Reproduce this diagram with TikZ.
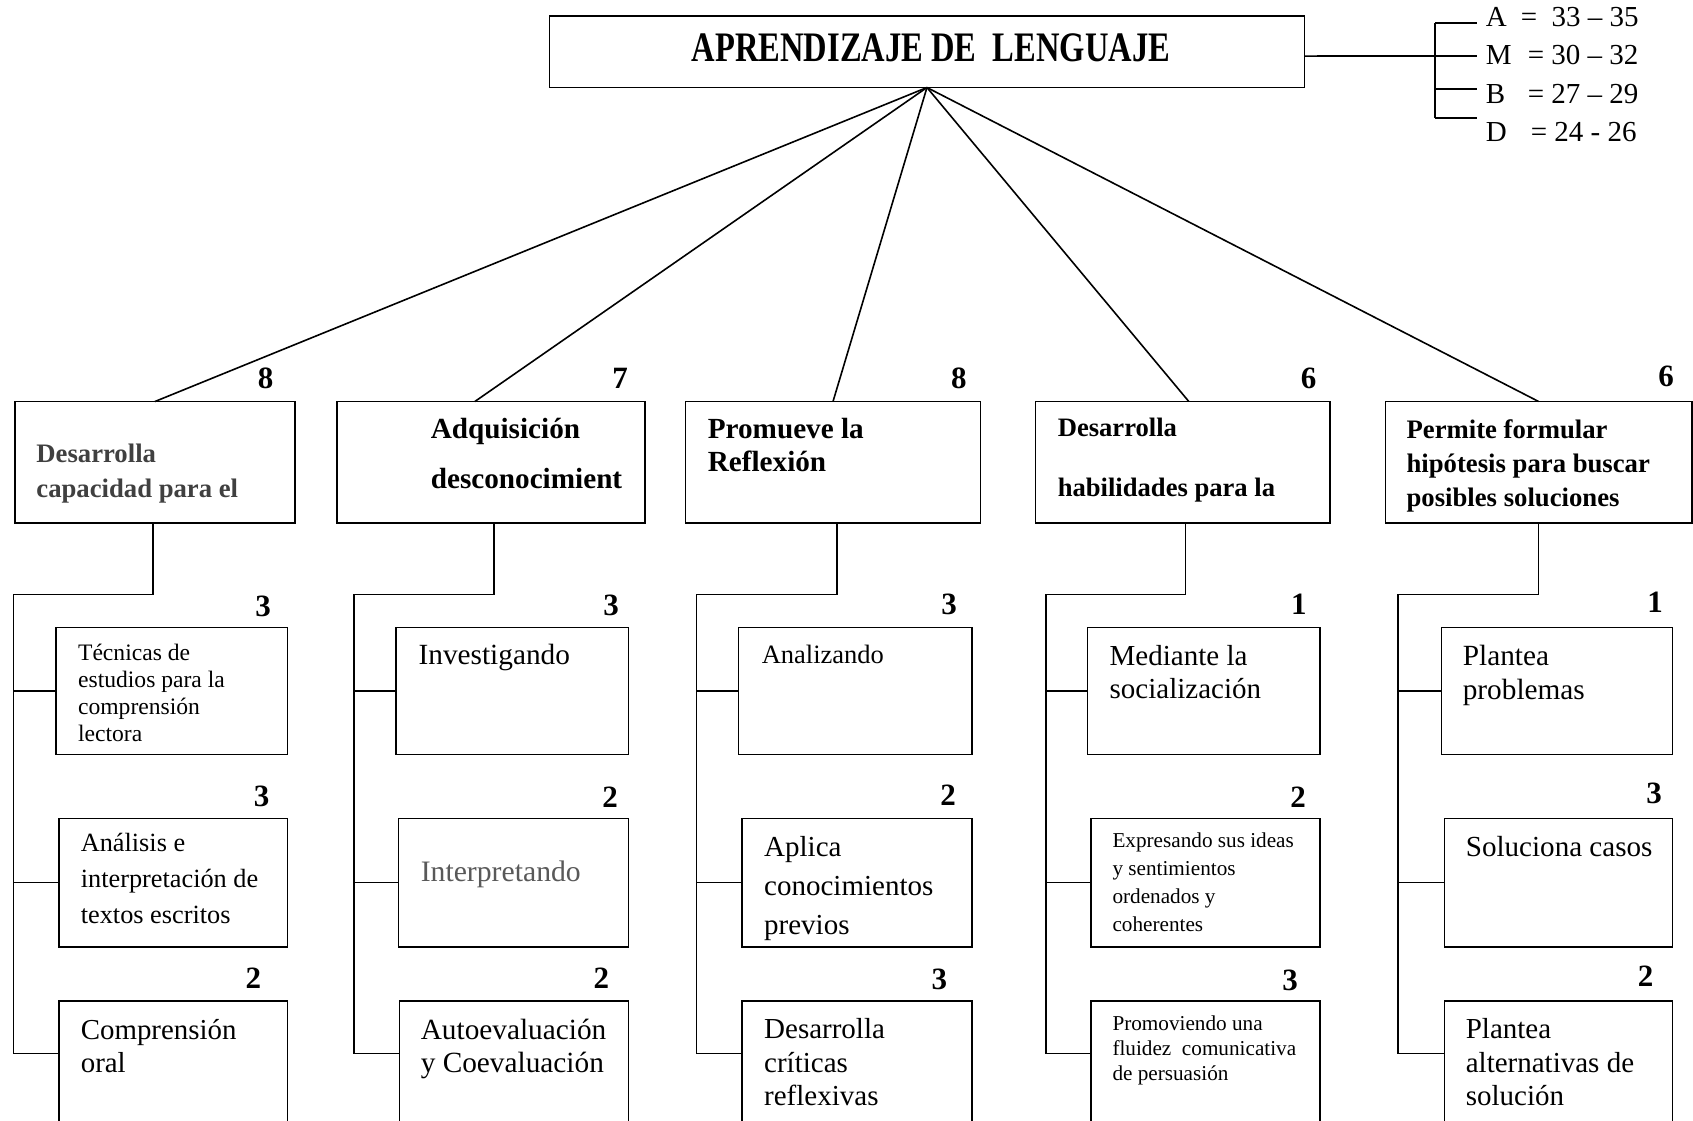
\documentclass[tikz,border=0pt]{standalone}
\usepackage{fontspec}
\setmainfont{Liberation Serif}
\newfontfamily\titlefont[FakeStretch=0.775]{Liberation Serif}
\newcommand\setfs[2]{\fontsize{#1}{#2}\selectfont}
\definecolor{grayA}{HTML}{404040}
\definecolor{grayB}{HTML}{595959}
\begin{document}
\begin{tikzpicture}[x=1pt,y=-1pt,line width=1.6pt,
  box/.style={draw,rectangle,inner sep=0pt,outer sep=0pt,anchor=north west},
  lbl/.style={inner sep=0pt,anchor=base west,align=left},
  num/.style={inner sep=0pt,font=\bfseries\setfs{31}{34}}]
\clip (0,0) rectangle (1693,1120);
\fill[white] (0,0) rectangle (1693,1120);

% title
\node[box,minimum width=754.7pt,minimum height=71.5pt] (title) at (549.6,16) {};
\node[inner sep=0pt,anchor=base,font=\titlefont\bfseries\setfs{42}{46}] (titletxt) at (931,61.5) {APRENDIZAJE DE\ \ LENGUAJE};

% legend
\coordinate (lj) at (1435,56);
\coordinate (lt) at (1435,22.7);
\coordinate (lm) at (1435,89);
\coordinate (lb) at (1435,118);
\draw ([yshift=-4.3pt]title.east) -- (lj);
\draw (lt) -- (lb);
\draw (lt) -- ++(42,0);
\draw (lj) -- ++(42,0);
\draw (lm) -- ++(42,0);
\draw (lb) -- ++(42,0);
\node[lbl,font=\setfs{29}{32}] (legA) at (1485,26.5) {\makebox[35pt][l]{A}=\ \ 33 -- 35};
\node[lbl,font=\setfs{29}{32}] (legM) at (1485,64) {\makebox[42pt][l]{M}= 30 -- 32};
\node[lbl,font=\setfs{29}{32}] (legB) at (1485,103) {\makebox[42pt][l]{B}= 27 -- 29};
\node[lbl,font=\setfs{29}{32}] (legD) at (1485,141.7) {\makebox[45pt][l]{D}= 24 - 26};

% level 2 boxes
\node[box,minimum width=279.7pt,minimum height=121.5pt] (b1) at (15.1,401.5) {};
\node[box,minimum width=308.3pt,minimum height=121.5pt] (b2) at (336.7,401.5) {};
\node[box,minimum width=294.8pt,minimum height=121.5pt] (b3) at (685.6,401.5) {};
\node[box,minimum width=294.8pt,minimum height=121.5pt] (b4) at (1035.4,401.5) {};
\node[box,minimum width=306.6pt,minimum height=121.5pt] (b5) at (1385.3,401.5) {};

\draw (title.south) -- (b1.north);
\draw (title.south) -- ([xshift=-16pt]b2.north);
\draw (title.south) -- (b3.north);
\draw (title.south) -- ([xshift=6pt]b4.north);
\draw (title.south) -- (b5.north);

% (base anchor of a multi-line node = baseline of its last line)
\node[lbl,text=grayA,font=\bfseries\setfs{26.7}{34.5}] (t1) at (35.6,497) {Desarrolla\\capacidad para el};
\node[lbl,font=\bfseries\setfs{29.2}{50}] (t2) at (430,488.3) {Adquisición\\desconocimient};
\node[lbl,font=\bfseries\setfs{29.2}{33.4}] (t3) at (707,471.7) {Promueve la\\Reflexión};
\node[lbl,font=\bfseries\setfs{26.6}{60}] (t4) at (1057,496.7) {Desarrolla\\habilidades para la};
\node[lbl,font=\bfseries\setfs{26.7}{34}] (t5) at (1405.8,506.3) {Permite formular\\hipótesis para buscar\\posibles soluciones};

\node[num] (n1) at (265.6,378) {8};
\node[num] (n2) at (620,378) {7};
\node[num] (n3) at (958.8,378) {8};
\node[num] (n4) at (1308.7,378) {6};
\node[num] (n5) at (1666,376) {6};

% level 3 boxes
\node[box,minimum width=231.3pt,minimum height=126.8pt] (c1a) at (56,627.6) {};
\node[box,minimum width=228.3pt,minimum height=128.4pt] (c1b) at (59,818.3) {};
\node[box,minimum width=228.3pt,minimum height=200pt] (c1c) at (59,1001) {};
\node[box,minimum width=232.2pt,minimum height=126.8pt] (c2a) at (396.2,627.6) {};
\node[box,minimum width=230pt,minimum height=128.4pt] (c2b) at (398.4,818.3) {};
\node[box,minimum width=228.9pt,minimum height=200pt] (c2c) at (399.5,1001) {};
\node[box,minimum width=233.2pt,minimum height=126.8pt] (c3a) at (738.5,627.6) {};
\node[box,minimum width=229.9pt,minimum height=128.4pt] (c3b) at (741.8,818.3) {};
\node[box,minimum width=229.9pt,minimum height=200pt] (c3c) at (741.8,1001) {};
\node[box,minimum width=232.7pt,minimum height=126.8pt] (c4a) at (1087.3,627.6) {};
\node[box,minimum width=229.3pt,minimum height=128.4pt] (c4b) at (1090.7,818.3) {};
\node[box,minimum width=229.3pt,minimum height=200pt] (c4c) at (1090.7,1001) {};
\node[box,minimum width=231.1pt,minimum height=126.8pt] (c5a) at (1441.4,627.6) {};
\node[box,minimum width=227.9pt,minimum height=128.4pt] (c5b) at (1444.6,818.3) {};
\node[box,minimum width=227.9pt,minimum height=200pt] (c5c) at (1444.6,1001) {};

% trunks
\coordinate (k1) at (13.3,594.3);  \coordinate (e1) at (13.3,1053.5);
\coordinate (k2) at (354.1,594.3); \coordinate (e2) at (354.1,1053.5);
\coordinate (k3) at (696.4,594.3); \coordinate (e3) at (696.4,1053.5);
\coordinate (k4) at (1045.7,594.3); \coordinate (e4) at (1045.7,1053.5);
\coordinate (k5) at (1398.2,594.3); \coordinate (e5) at (1398.2,1053.5);
\draw ([xshift=-1.7pt]b1.south) |- (k1) -- (e1) -- (e1 -| c1c.west);
\draw ([xshift=3.2pt]b2.south) |- (k2) -- (e2) -- (e2 -| c2c.west);
\draw ([xshift=3.8pt]b3.south) |- (k3) -- (e3) -- (e3 -| c3c.west);
\draw ([xshift=2.7pt]b4.south) |- (k4) -- (e4) -- (e4 -| c4c.west);
\draw (b5.south) |- (k5) -- (e5) -- (e5 -| c5c.west);
\draw (k1 |- c1a.west) -- (c1a.west);
\draw (k1 |- c1b.west) -- (c1b.west);
\draw (k2 |- c2a.west) -- (c2a.west);
\draw (k2 |- c2b.west) -- (c2b.west);
\draw (k3 |- c3a.west) -- (c3a.west);
\draw (k3 |- c3b.west) -- (c3b.west);
\draw (k4 |- c4a.west) -- (c4a.west);
\draw (k4 |- c4b.west) -- (c4b.west);
\draw (k5 |- c5a.west) -- (c5a.west);
\draw (k5 |- c5b.west) -- (c5b.west);

% level 3 texts (positions = baseline of last line)
\node[lbl,font=\setfs{23.6}{27.2}] (x1a) at (77.3,741.6) {Técnicas de\\estudios para la\\comprensión\\lectora};
\node[lbl,font=\setfs{26.3}{35.8}] (x1b) at (80,923.3) {Análisis e\\interpretación de\\textos escritos};
\node[lbl,font=\setfs{28.9}{33.7}] (x1c) at (80,1072.7) {Comprensión\\oral};
\node[lbl,font=\setfs{29.3}{34}] (x2a) at (417.8,664) {Investigando};
\node[lbl,text=grayB,font=\setfs{29.7}{34}] (x2b) at (420,881) {Interpretando};
\node[lbl,font=\setfs{29.3}{33.7}] (x2c) at (420,1072.7) {Autoevaluación\\y Coevaluación};
\node[lbl,font=\setfs{26.5}{30}] (x3a) at (761,663) {Analizando};
\node[lbl,font=\setfs{29}{39}] (x3b) at (763.4,934) {Aplica\\conocimientos\\previos};
\node[lbl,font=\setfs{29}{33.5}] (x3c) at (763.4,1105.6) {Desarrolla\\críticas\\reflexivas};
\node[lbl,font=\setfs{29}{33.5}] (x4a) at (1108.9,698.5) {Mediante la\\socialización};
\node[lbl,font=\setfs{21.2}{28.1}] (x4b) at (1111.7,931.6) {Expresando sus ideas\\y sentimientos\\ordenados y\\coherentes};
\node[lbl,font=\setfs{21.2}{25}] (x4c) at (1111.7,1080) {Promoviendo una\\fluidez\ \ comunicativa\\de persuasión};
\node[lbl,font=\setfs{29.3}{34.5}] (x5a) at (1462,699.5) {Plantea\\problemas};
\node[lbl,font=\setfs{29.1}{34}] (x5b) at (1465,856) {Soluciona casos};
\node[lbl,font=\setfs{29}{33.5}] (x5c) at (1465,1105.6) {Plantea\\alternativas de\\solución};

% level 3 numbers
\node[num] (m1a) at (263,606) {3};
\node[num] (m1b) at (261.7,796) {3};
\node[num] (m1c) at (253.3,978) {2};
\node[num] (m2a) at (611.1,605.7) {3};
\node[num] (m2b) at (610,796.8) {2};
\node[num] (m2c) at (601.4,978.2) {2};
\node[num] (m3a) at (949,604.6) {3};
\node[num] (m3b) at (948,795.7) {2};
\node[num] (m3c) at (939.3,979.3) {3};
\node[num] (m4a) at (1298.9,604.6) {1};
\node[num] (m4b) at (1298,797.5) {2};
\node[num] (m4c) at (1290,980) {3};
\node[num] (m5a) at (1655.2,602.5) {1};
\node[num] (m5b) at (1654.1,793.6) {3};
\node[num] (m5c) at (1645.5,976) {2};
\end{tikzpicture}
\end{document}
